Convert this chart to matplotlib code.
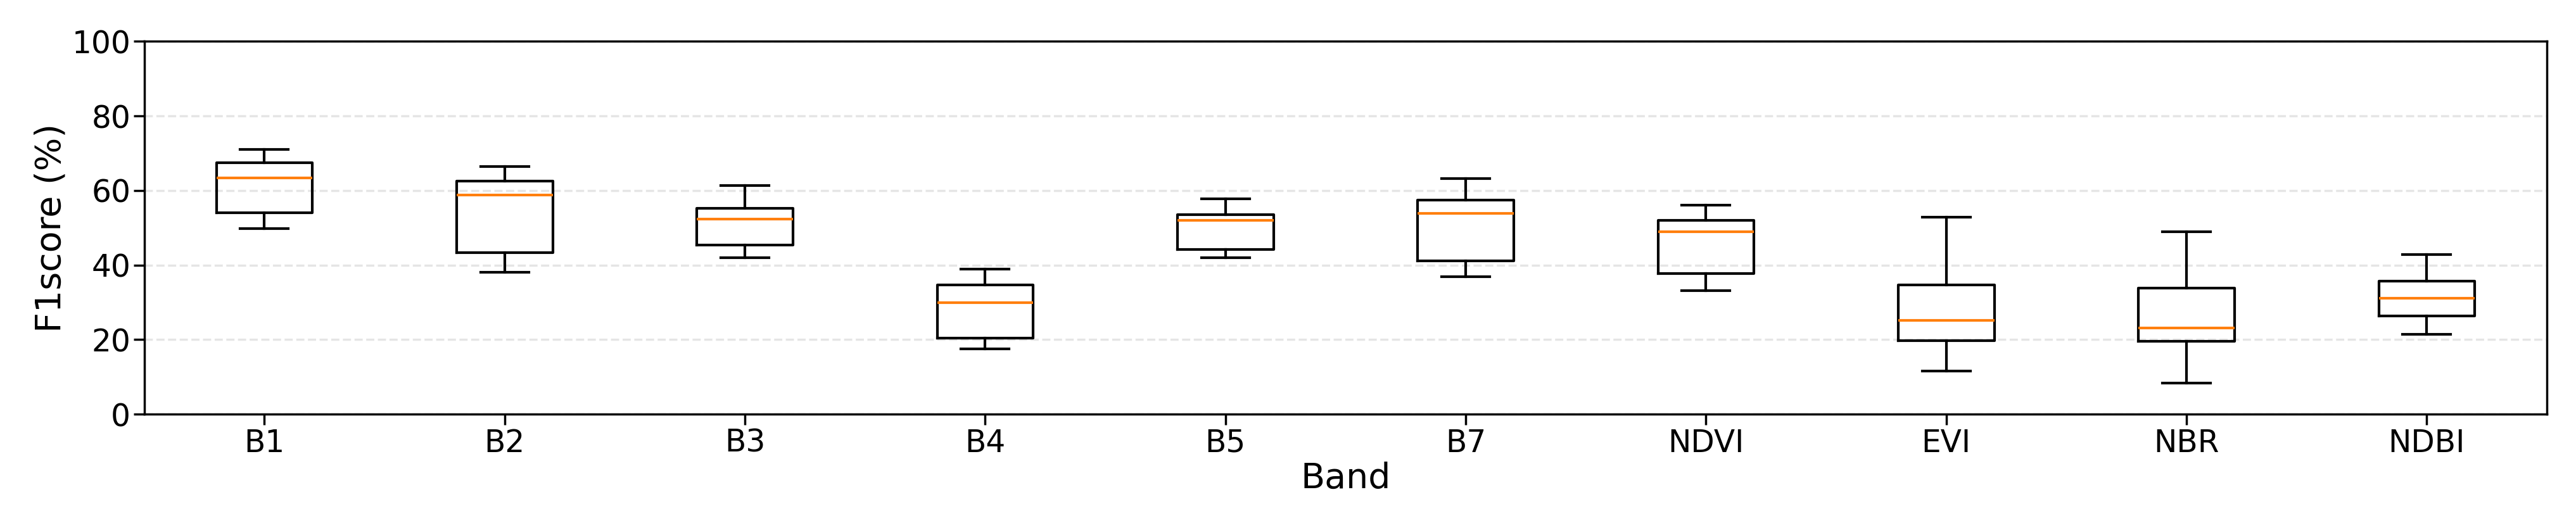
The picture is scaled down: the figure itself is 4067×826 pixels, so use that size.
import matplotlib
matplotlib.use("Agg")
import matplotlib.pyplot as plt

# values (F1 score %)
bands = ["B1", "B2", "B3", "B4", "B5", "B7", "NDVI", "EVI", "NBR", "NDBI"]
whislo = [49.8, 38.1, 42.0, 17.6, 42.0, 36.8, 33.2, 11.5, 8.4, 21.5]
q1 = [54.1, 43.4, 45.3, 20.4, 44.1, 41.1, 37.8, 19.8, 19.6, 26.4]
med = [63.4, 58.7, 52.4, 29.9, 52.0, 53.9, 48.9, 25.1, 23.2, 31.1]
q3 = [67.5, 62.6, 55.3, 34.6, 53.5, 57.4, 52.0, 34.7, 33.9, 35.7]
whishi = [71.0, 66.4, 61.3, 38.9, 57.8, 63.2, 56.0, 52.9, 48.9, 42.9]

stats = []
for i, b in enumerate(bands):
    stats.append({"label": b, "whislo": whislo[i], "q1": q1[i], "med": med[i],
                  "q3": q3[i], "whishi": whishi[i], "fliers": []})

fig = plt.figure(figsize=(40.67, 8.26), dpi=100)
ax = fig.add_axes([0.056, 0.208, 0.9327, 0.713])

lw = 3.0
ax.bxp(stats, widths=0.4, showfliers=False,
       boxprops=dict(linewidth=lw, color="black"),
       whiskerprops=dict(linewidth=lw, color="black"),
       capprops=dict(linewidth=lw, color="black"),
       medianprops=dict(linewidth=lw, color="#ff7f0e"))

ax.set_ylim(0, 100)
ax.set_yticks([0, 20, 40, 60, 80, 100])
ax.yaxis.grid(True, linestyle="--", color="#cccccc", alpha=0.5, linewidth=2.5)
ax.set_axisbelow(True)

ax.tick_params(axis="both", labelsize=35, width=2.5, length=12)
for s in ax.spines.values():
    s.set_linewidth(2.5)

ax.set_xlabel("Band", fontsize=40)
ax.set_ylabel("F1score (%)", fontsize=40)

fig.savefig("out.png", dpi=100)
